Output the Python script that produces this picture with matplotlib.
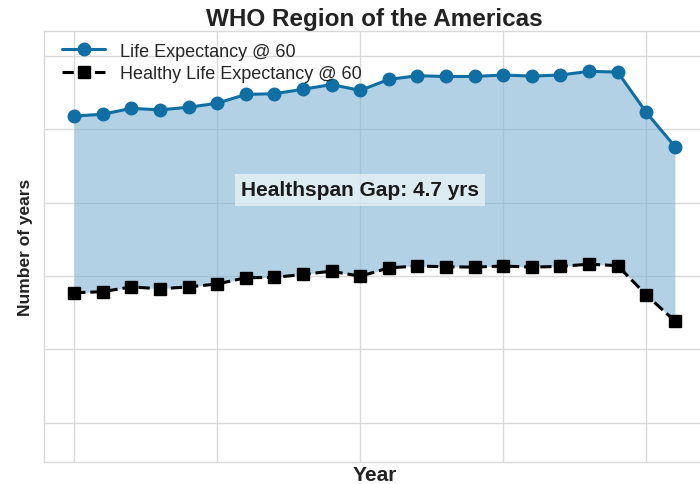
import matplotlib.pyplot as plt

# WHO Region of the Americas
years = list(range(2000, 2022))
life_exp_60 = [21.36, 21.41, 21.57, 21.53, 21.60, 21.71, 21.95, 21.97, 22.09, 22.22, 22.06,
               22.36, 22.46, 22.44, 22.44, 22.48, 22.45, 22.48, 22.58, 22.56, 21.46, 20.53]
healthy_exp_60 = [16.54, 16.57, 16.70, 16.65, 16.70, 16.78, 16.95, 16.96, 17.04, 17.13, 16.99,
                  17.22, 17.27, 17.25, 17.24, 17.27, 17.24, 17.26, 17.32, 17.28, 16.48, 15.77]
gap_label = "Healthspan Gap: 4.7 yrs"

plt.style.use('seaborn-v0_8-whitegrid')
plt.rcParams['font.family'] = ['Liberation Sans', 'DejaVu Sans']

fig = plt.figure(figsize=(7, 4.85), dpi=100)
ax = fig.add_axes([0.063, 0.045, 0.944, 0.889])

blue = '#0f6ea3'
ax.fill_between(years, healthy_exp_60, life_exp_60, color='#7fb3d3', alpha=0.6, linewidth=0)
ax.plot(years, life_exp_60, '-o', color=blue, lw=2.2, ms=9, label='Life Expectancy @ 60')
ax.plot(years, healthy_exp_60, '--s', color='black', lw=2.2, ms=8.5, label='Healthy Life Expectancy @ 60')

ax.set_xticks([2000, 2005, 2010, 2015, 2020])
ax.set_yticks([13, 15, 17, 19, 21, 23])
ax.set_ylim(11.92, 23.68)
ax.tick_params(labelleft=False, labelbottom=False, length=0)
ax.grid(True, color='#d9d9d9', lw=1)
for s in ax.spines.values():
    s.set_visible(True)
    s.set_color('#d9d9d9')

ax.text(2010, 19.35, gap_label, ha='center', va='center', fontsize=15, fontweight='bold',
        color='#1a1a1a', bbox=dict(boxstyle='square,pad=0.3', facecolor='white', alpha=0.55, edgecolor='none'))

ax.set_title('WHO Region of the Americas', fontsize=17.5, fontweight='bold', color='#222222', pad=4)
ax.set_xlabel('Year', fontsize=15, fontweight='bold', color='#222222', labelpad=2)
ax.set_ylabel('Number of years', fontsize=12.5, fontweight='bold', color='#222222', labelpad=8)
ax.legend(loc='upper left', bbox_to_anchor=(0.016, 0.99), borderaxespad=0, fontsize=13,
          frameon=False, handlelength=2.4, labelspacing=0.3)

fig.savefig('out.png', dpi=100)
